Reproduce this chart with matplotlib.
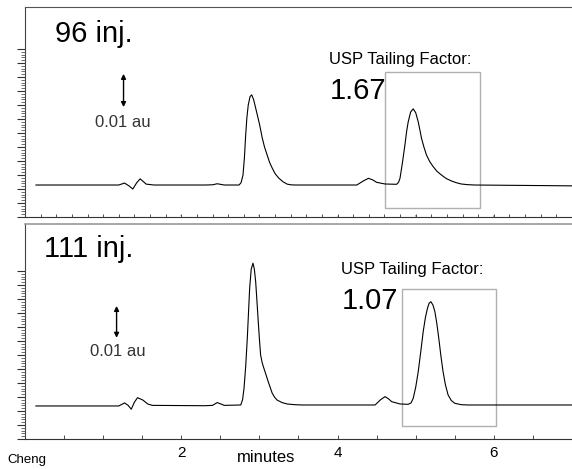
import numpy as np
import matplotlib.pyplot as plt
from matplotlib.ticker import MultipleLocator

plt.rcParams['font.family'] = ['Liberation Sans', 'DejaVu Sans']

# trace points: time (min), absorbance (mAU)
t_96 = [0.14, 1.20, 1.274, 1.33, 1.38, 1.43, 1.474, 1.51, 1.55, 1.65, 2.30, 2.40,
        2.46, 2.55, 2.739, 2.765, 2.790, 2.808, 2.824, 2.840, 2.857, 2.880, 2.901,
        2.925, 2.952, 2.978, 3.003, 3.036, 3.065, 3.099, 3.13, 3.163, 3.20, 3.248,
        3.30, 3.354, 3.40, 3.461, 4.246, 4.33, 4.395, 4.45, 4.501, 4.608, 4.755,
        4.78, 4.799, 4.83, 4.862, 4.884, 4.904, 4.935, 4.968, 5.00, 5.032, 5.054,
        5.074, 5.105, 5.138, 5.18, 5.223, 5.27, 5.329, 5.39, 5.456, 5.52, 5.583,
        5.66, 5.754, 6.50, 7.00]
a_96 = [9.14, 9.14, 9.7, 8.9, 8.0, 9.8, 10.9, 10.2, 9.4, 9.14, 9.14, 9.2,
        9.5, 9.14, 9.14, 9.8, 12.0, 17.0, 23.4, 28.5, 32.0, 34.4, 34.9,
        33.6, 31.1, 28.7, 26.3, 22.6, 20.0, 17.7, 15.6, 14.0, 12.4, 11.1,
        10.1, 9.4, 9.2, 9.14, 9.14, 10.3, 11.06, 10.6, 9.9, 9.43, 9.34,
        9.9, 11.06, 15.5, 20.6, 24.5, 27.2, 30.0, 30.9, 29.8, 27.2, 24.8,
        22.5, 20.0, 17.7, 15.8, 14.4, 13.1, 12.0, 11.0, 10.3, 9.8, 9.43,
        9.25, 9.14, 9.0, 8.9]

t_111 = [0.14, 1.20, 1.274, 1.32, 1.36, 1.40, 1.44, 1.51, 1.57, 1.63, 2.30, 2.40,
         2.46, 2.55, 2.761, 2.785, 2.803, 2.825, 2.845, 2.860, 2.875, 2.895, 2.917,
         2.935, 2.952, 2.968, 2.985, 3.000, 3.015, 3.035, 3.057, 3.085, 3.112, 3.14,
         3.163, 3.195, 3.227, 3.29, 3.354, 3.45, 3.545, 4.480, 4.55, 4.608, 4.65,
         4.692, 4.799, 4.904, 4.94, 4.968, 5.00, 5.032, 5.065, 5.096, 5.125, 5.150,
         5.172, 5.194, 5.22, 5.245, 5.27, 5.295, 5.322, 5.350, 5.38, 5.414, 5.455,
         5.500, 5.58, 5.669, 6.50, 7.00]
a_111 = [9.43, 9.43, 10.3, 9.6, 8.5, 10.5, 11.8, 11.1, 10.0, 9.6, 9.5, 9.6,
         10.4, 9.6, 9.71, 11.3, 14.5, 21.0, 28.8, 36.0, 43.1, 48.5, 50.2,
         48.5, 44.9, 39.5, 33.5, 28.5, 24.0, 21.8, 20.2, 18.3, 16.4, 14.6,
         13.1, 11.9, 11.1, 10.4, 10.0, 9.8, 9.71, 9.71, 11.2, 12.1, 11.5,
         10.66, 10.0, 9.9, 10.3, 11.6, 14.8, 19.2, 25.0, 30.7, 34.8, 37.3,
         38.8, 39.2, 38.3, 36.4, 33.0, 28.8, 23.8, 19.2, 15.5, 12.6, 11.0,
         10.2, 9.8, 9.71, 9.71, 9.71]

labels = ["96 inj.", "111 inj."]
tailing = ["1.67", "1.07"]
box_t = [(4.61, 5.82), (4.82, 6.03)]
box_a = [(2.57, 41.4), (3.71, 42.9)]
ytops = [60.0, 61.4]

fig = plt.figure(figsize=(5.72, 4.69), dpi=100)
ax1 = fig.add_axes([0.0437, 0.5373, 0.9563, 0.4478])
ax2 = fig.add_axes([0.0437, 0.0640, 0.9563, 0.4584])

for ax, t, a, ytop in [(ax1, t_96, a_96, ytops[0]), (ax2, t_111, a_111, ytops[1])]:
    ax.plot(t, a, color='black', lw=0.8)
    ax.set_xlim(0, 7)
    ax.set_ylim(0, ytop)
    ax.spines['right'].set_visible(False)
    ax.yaxis.set_major_locator(plt.FixedLocator(np.arange(0, 49, 4)))
    ax.yaxis.set_minor_locator(plt.FixedLocator(np.arange(0, 48.1, 0.8)))
    ax.tick_params(axis='y', which='major', length=6, width=0.8, color='#333333', labelleft=False)
    ax.tick_params(axis='y', which='minor', length=3, width=0.6, color='#555555')
    ax.spines['left'].set_color('#444444')
    ax.spines['bottom'].set_color('#333333')

ax1.spines['top'].set_color('#555555')
ax2.spines['top'].set_color('#999999')
ax2.spines['top'].set_linewidth(1.2)

# top panel x axis: dense inward ticks, tiny labels
ax1.xaxis.set_major_locator(MultipleLocator(0.2))
ax1.tick_params(axis='x', direction='in', length=2.5, width=0.6, color='#333333', labelbottom=False)
for m in [2, 3, 4, 5, 6]:
    ax1.text(m, 0, str(m), fontsize=3, ha='center', va='center', color='#444444')

# bottom panel x axis
ax2.xaxis.set_major_locator(plt.FixedLocator([2, 4, 6]))
ax2.xaxis.set_minor_locator(MultipleLocator(0.5))
ax2.tick_params(axis='x', which='both', direction='in', length=3, width=0.6, color='#333333',
                labelsize=11, pad=5)

# annotations
txt_pos = [dict(lab=(0.382, 52.4), usp=(3.885, 45.0), tf=(3.898, 36.0),
                arr=(1.261, 40.9, 31.4), au=(1.25, 26.9), lfs=21),
           dict(lab=(0.242, 54.3), usp=(4.04, 48.4), tf=(4.05, 39.4),
                arr=(1.172, 38.0, 28.9), au=(1.19, 25.1), lfs=21)]
for i, ax in enumerate([ax1, ax2]):
    p = txt_pos[i]
    ax.text(*p['lab'], labels[i], fontsize=p['lfs'], va='center', ha='left')
    ax.text(*p['usp'], "USP Tailing Factor:", fontsize=12, va='center', ha='left')
    ax.text(*p['tf'], tailing[i], fontsize=21, va='center', ha='left')
    x, y0, y1 = p['arr']
    ax.annotate('', xy=(x, y0), xytext=(x, y1),
                arrowprops=dict(arrowstyle='<|-|>', color='black', lw=1,
                                mutation_scale=7, shrinkA=0, shrinkB=0))
    ax.text(*p['au'], "0.01 au", fontsize=12, va='center', ha='center', color='#333333')
    (x0, x1), (b0, b1) = box_t[i], box_a[i]
    ax.add_patch(plt.Rectangle((x0, b0), x1 - x0, b1 - b0, fill=False,
                               edgecolor='#b0b0b0', lw=1))

fig.text(3.09 / 7 * 0.9563 + 0.0437, 1 - 457 / 469, "minutes", fontsize=12,
         ha='center', va='center')
fig.text(7 / 572, 1 - 460 / 469, "Cheng", fontsize=9.5, ha='left', va='center')

fig.savefig('out.png', dpi=100)
